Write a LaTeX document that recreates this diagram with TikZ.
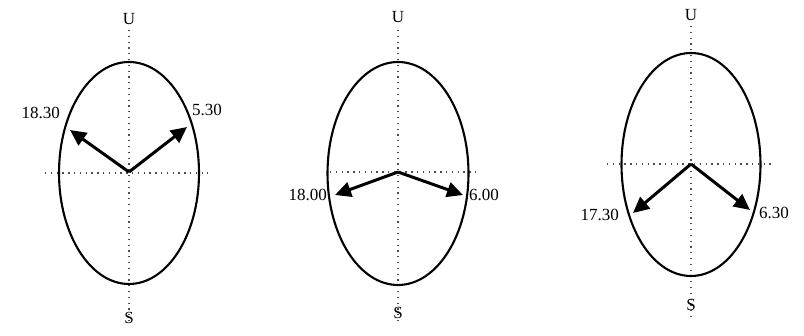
\documentclass[tikz,border=0pt]{standalone}
\usepackage{fontspec}
\setmainfont{Liberation Serif}
\usetikzlibrary{arrows.meta}
\begin{document}
\begin{tikzpicture}[x=1pt,y=-1pt,
  oval/.style={line width=2.1pt},
  axis/.style={dash pattern=on 1.3pt off 4.5pt, line width=1.3pt, black!70},
  ray/.style={line width=3pt, -{Triangle[length=16pt,width=15pt]}},
  lbl/.style={font=\fontsize{17}{17}\selectfont, inner sep=0pt},
]
\useasboundingbox (0,0) rectangle (804,336);
% panel 1
\draw[axis] (129,30) -- (129,325);
\draw[axis] (45,173) -- (208,173);
\draw[oval] (129,173) ellipse [x radius=70pt, y radius=111pt];
\node[lbl] (n1) at (129,19) {U};
\node[lbl] (s1) at (129,318) {S};
\coordinate (c1) at (129,172);
\coordinate (l1) at (70,130);
\coordinate (r1) at (187,127);
\draw[ray] (c1) -- (l1);
\draw[ray] (c1) -- (r1);
\node[lbl, anchor=east] (t1l) at (60,113) {18.30};
\node[lbl, anchor=west] (t1r) at (192,110) {5.30};
% panel 2
\draw[axis] (398,30) -- (398,325);
\draw[axis] (330,172) -- (478,172);
\draw[oval] (398,173.5) ellipse [x radius=70.5pt, y radius=111.5pt];
\node[lbl] (n2) at (398,17) {U};
\node[lbl] (s2) at (398,313) {S};
\coordinate (c2) at (398,172);
\coordinate (l2) at (335,195);
\coordinate (r2) at (463,195);
\draw[ray] (c2) -- (l2);
\draw[ray] (c2) -- (r2);
\node[lbl, anchor=east] (t2l) at (327,195) {18.00};
\node[lbl, anchor=west] (t2r) at (469,195) {6.00};
% panel 3
\draw[axis] (691,26) -- (691,320);
\draw[axis] (607,164) -- (772,164);
\draw[oval] (691,164.5) ellipse [x radius=69.5pt, y radius=111.5pt];
\node[lbl] (n3) at (691,15) {U};
\node[lbl] (s3) at (691,305) {S};
\coordinate (c3) at (691,164);
\coordinate (l3) at (633,213);
\coordinate (r3) at (750,210);
\draw[ray] (c3) -- (l3);
\draw[ray] (c3) -- (r3);
\node[lbl, anchor=east] (t3l) at (619,215) {17.30};
\node[lbl, anchor=west] (t3r) at (759,213) {6.30};
\end{tikzpicture}
\end{document}
